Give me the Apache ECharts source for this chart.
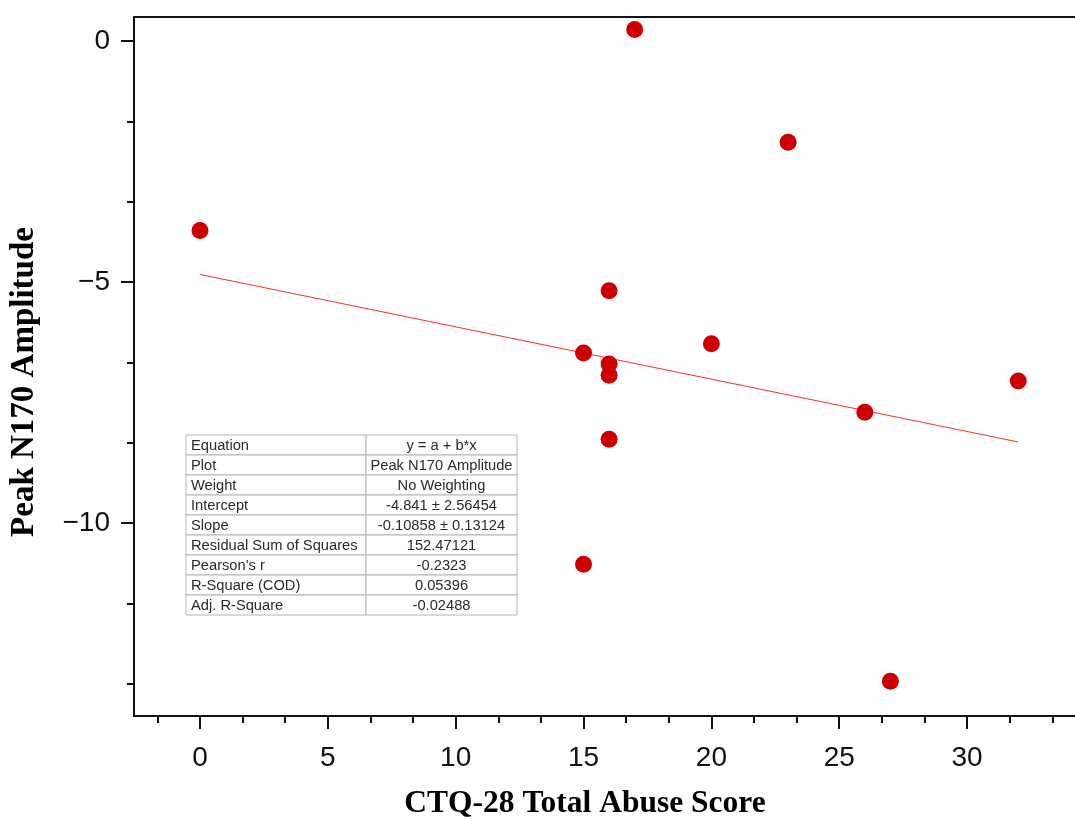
<!DOCTYPE html>
<html>
<head>
<meta charset="utf-8">
<script src="https://cdn.jsdelivr.net/npm/echarts@6/dist/echarts.min.js"></script>
<style>
  html, body { margin: 0; padding: 0; background: #fff; }
  #chart { width: 1075px; height: 819px; }
</style>
</head>
<body>
<div id="chart"></div>
<script>
// CTQ-28 total abuse score vs. peak N170 amplitude
const ctqScores = [0, 17, 23, 16, 15, 16, 16, 20, 26, 32, 16, 15, 27];
const n170Amplitudes = [-3.93, 0.24, -2.10, -5.18, -6.47, -6.70, -6.93, -6.28, -7.70, -7.05, -8.26, -10.85, -13.28];

// Linear fit parameters (y = a + b*x)
const fitIntercept = -4.841;
const fitSlope = -0.10858;
const fitRange = [0, 32];

// Tick positions
const xMajorTicks = [0, 5, 10, 15, 20, 25, 30];
const xMinorTicks = [-1.6667, 1.6667, 3.3333, 6.6667, 8.3333, 11.6667, 13.3333, 16.6667, 18.3333,
  21.6667, 23.3333, 26.6667, 28.3333, 31.6667, 33.3333];
const yMajorTicks = [-10, -5, 0];
const yMinorTicks = [-13.3333, -11.6667, -8.3333, -6.6667, -3.3333, -1.6667];

// Fit summary table
const tableLabels = ['Equation', 'Plot', 'Weight', 'Intercept', 'Slope',
  'Residual Sum of Squares', "Pearson's r", 'R-Square (COD)', 'Adj. R-Square'];
const tableValues = ['y = a + b*x', 'Peak N170 Amplitude', 'No Weighting',
  '-4.841 ± 2.56454', '-0.10858 ± 0.13124', '152.47121', '-0.2323', '0.05396', '-0.02488'];

const points = ctqScores.map((x, i) => [x, n170Amplitudes[i]]);
const fitLine = fitRange.map(x => [x, fitIntercept + fitSlope * x]);

const fmtNum = v => (v < 0 ? '\u2212' + Math.abs(v) : String(v));

const tickFont = { fontFamily: 'Liberation Sans, Arial, sans-serif', fontSize: 28, color: '#111' };
const serif = 'Liberation Serif, Times New Roman, serif';

// table geometry
const tblX = 186, tblY = 435, col1W = 180, col2W = 151, rowH = 20;
const tableFont = '14.7px Liberation Sans, Arial, sans-serif';
const tableGraphics = [];
tableLabels.forEach((lab, i) => {
  const y = tblY + i * rowH;
  tableGraphics.push({ type: 'rect', shape: { x: tblX, y: y, width: col1W, height: rowH },
    style: { fill: '#fff', stroke: '#b4b4b4', lineWidth: 1 }, z: 10 });
  tableGraphics.push({ type: 'rect', shape: { x: tblX + col1W, y: y, width: col2W, height: rowH },
    style: { fill: '#fff', stroke: '#b4b4b4', lineWidth: 1 }, z: 10 });
  tableGraphics.push({ type: 'text', x: tblX + 5, y: y + rowH / 2 + 1, z: 11,
    style: { text: lab, fill: '#2a2a2a', font: tableFont, align: 'left', verticalAlign: 'middle' } });
  tableGraphics.push({ type: 'text', x: tblX + col1W + col2W / 2, y: y + rowH / 2 + 1, z: 11,
    style: { text: tableValues[i], fill: '#2a2a2a', font: tableFont, align: 'center', verticalAlign: 'middle' } });
});

const X_MIN = -2.58, X_MAX = 34.22;
const Y_MIN = -14, Y_MAX = 0.5;
const axisColor = '#111';

const chart = echarts.init(document.getElementById('chart'), null, { renderer: 'canvas' });
chart.setOption({
  animation: false,
  backgroundColor: '#fff',
  grid: { left: 134, top: 17, right: 0, bottom: 103, show: false },
  xAxis: [
    {
      type: 'value', min: X_MIN, max: X_MAX, position: 'bottom',
      axisLine: { show: true, onZero: false, lineStyle: { color: axisColor, width: 2 } },
      axisTick: { show: true, customValues: xMajorTicks, length: 13, lineStyle: { color: axisColor, width: 2 } },
      axisLabel: { show: true, customValues: xMajorTicks, margin: 28, formatter: fmtNum, ...tickFont },
      splitLine: { show: false }
    },
    {
      type: 'value', min: X_MIN, max: X_MAX, position: 'bottom', offset: 0,
      axisLine: { show: false, onZero: false },
      axisTick: { show: true, customValues: xMinorTicks, length: 7, lineStyle: { color: axisColor, width: 2 } },
      axisLabel: { show: false },
      splitLine: { show: false }
    },
    {
      // top frame line
      type: 'value', min: X_MIN, max: X_MAX, position: 'top', offset: 0,
      axisLine: { show: true, onZero: false, lineStyle: { color: axisColor, width: 2 } },
      axisTick: { show: false },
      axisLabel: { show: false },
      splitLine: { show: false }
    }
  ],
  yAxis: [
    {
      type: 'value', min: Y_MIN, max: Y_MAX, position: 'left',
      axisLine: { show: true, onZero: false, lineStyle: { color: axisColor, width: 2 } },
      axisTick: { show: true, customValues: yMajorTicks, length: 13, lineStyle: { color: axisColor, width: 2 } },
      axisLabel: { show: true, customValues: yMajorTicks, margin: 24, formatter: fmtNum, ...tickFont },
      splitLine: { show: false }
    },
    {
      type: 'value', min: Y_MIN, max: Y_MAX, position: 'left', offset: 0,
      axisLine: { show: false, onZero: false },
      axisTick: { show: true, customValues: yMinorTicks, length: 7, lineStyle: { color: axisColor, width: 2 } },
      axisLabel: { show: false },
      splitLine: { show: false }
    }
  ],
  series: [
    {
      type: 'line', data: fitLine, showSymbol: false, symbol: 'none',
      lineStyle: { color: '#ff2a2a', width: 1 }, z: 2, silent: true
    },
    {
      type: 'scatter', data: points, symbol: 'circle', symbolSize: 17,
      itemStyle: { color: '#cc0000', opacity: 1 }, z: 3
    }
  ],
  graphic: [
    {
      type: 'text', x: 24, y: 382, rotation: Math.PI / 2,
      style: { text: 'Peak N170 Amplitude', fill: '#000', font: 'bold 33px ' + serif, align: 'center', verticalAlign: 'middle' }
    },
    {
      type: 'text', x: 585, y: 804,
      style: { text: 'CTQ-28 Total Abuse Score', fill: '#000', font: 'bold 31.5px ' + serif, align: 'center', verticalAlign: 'middle' }
    },
    ...tableGraphics
  ]
});
</script>
</body>
</html>
